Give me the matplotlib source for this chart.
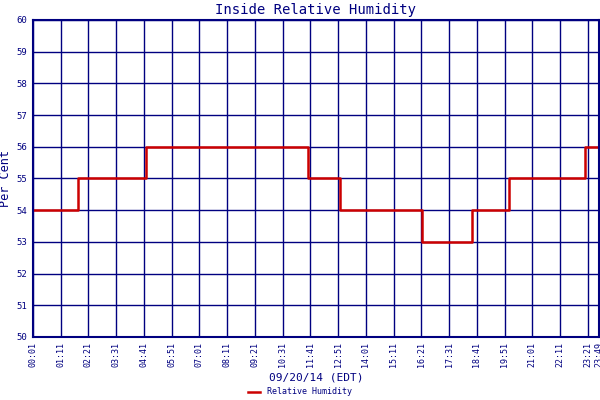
import matplotlib
matplotlib.use("Agg")
import matplotlib.pyplot as plt

tick_labels = ["00:01","01:11","02:21","03:31","04:41","05:51","07:01","08:11","09:21","10:31",
               "11:41","12:51","14:01","15:11","16:21","17:31","18:41","19:51","21:01","22:11","23:21","23:49"]
step_times = ["00:01","01:54","04:46","11:35","12:56","16:23","18:29","20:03","23:15","23:49"]
step_values = [54, 55, 56, 55, 54, 53, 54, 55, 56, 56]

def mins(s):
    h, m = s.split(":")
    return int(h) * 60 + int(m)

navy = "#000080"
plt.rcParams['font.family'] = ['DejaVu Sans Mono']
fig = plt.figure(figsize=(6, 4), dpi=100)
ax = fig.add_axes([0.055, 0.1575, 0.943, 0.7925])
x = [mins(t) for t in step_times]
ax.step(x, step_values, where="post", color="#cc0000", lw=1.8, label="Relative Humidity")
ax.set_xlim(mins(tick_labels[0]), mins(tick_labels[-1]))
ax.set_ylim(50, 60)
ax.set_yticks(range(50, 61))
ax.set_xticks([mins(t) for t in tick_labels])
ax.set_xticklabels(tick_labels, rotation=90, fontsize=6, color=navy)
ax.tick_params(axis="y", labelsize=6.5, colors=navy, length=0, pad=4)
ax.tick_params(axis="x", length=0, colors=navy)
ax.grid(True, color=navy, lw=1)
for s in ax.spines.values():
    s.set_color(navy); s.set_linewidth(1.5)
ax.set_title("Inside Relative Humidity", color=navy, fontsize=10, pad=4)
ax.set_ylabel("Per Cent", color=navy, fontsize=8.5)
ax.yaxis.set_label_coords(-0.037, 0.5)
ax.set_xlabel("09/20/14 (EDT)", color=navy, fontsize=8, labelpad=4)
fig.legend(loc="lower center", bbox_to_anchor=(0.5, -0.01), frameon=False, fontsize=6,
           labelcolor=navy, handlelength=1.5)
fig.savefig("out.png", dpi=100, facecolor="white")
